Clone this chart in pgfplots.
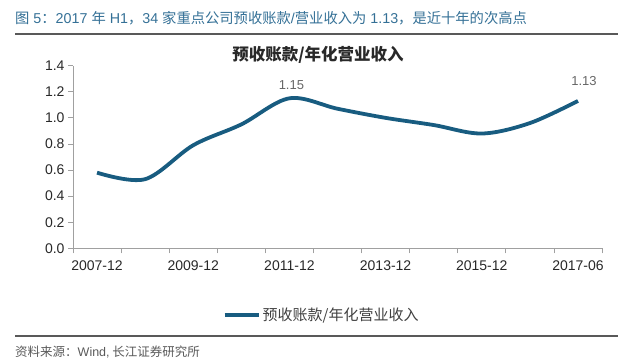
\documentclass[border=0pt]{standalone}
\usepackage{pgfplots}
\pgfplotsset{compat=1.18}
\usepackage{fontspec}
\setmainfont{Liberation Sans}
\newfontfamily\cjk{Noto Sans CJK SC}
\definecolor{capblue}{RGB}{52,112,150}
\definecolor{linec}{RGB}{24,92,128}
\definecolor{axgray}{RGB}{160,160,160}
\definecolor{txt}{RGB}{40,40,40}
\begin{document}
\begin{tikzpicture}[x=1pt,y=1pt]
\path[use as bounding box] (0pt,0pt) rectangle (640pt,363pt);
% caption
\node[anchor=west, text=capblue, font=\fontsize{14.3}{16}\selectfont, inner sep=0pt] at (15pt,345pt)
 {{\cjk 图} 5{\cjk ：}2017 {\cjk 年} H1{\cjk ，}34 {\cjk 家重点公司预收账款}/{\cjk 营业收入为} 1.13{\cjk ，是近十年的次高点}};
\draw[color=black!65, line width=1.3pt] (15pt,329pt) -- (618pt,329pt);
% title
\node[font=\fontsize{16.5}{18}\selectfont\cjk\bfseries, text=txt, inner sep=0pt] at (318pt,308pt) {预收账款/年化营业收入};
\begin{axis}[
  at={(73pt,114.7pt)}, anchor=south west,
  scale only axis, width=529pt, height=182.6pt,
  xmin=-0.5, xmax=10.5, ymin=0, ymax=1.4,
  axis lines=left,
  axis line style={-, draw=axgray, line width=0.8pt},
  tick style={draw=axgray, line width=0.8pt},
  tick align=outside,
  major tick length=5pt,
  ytick={0,0.2,...,1.4},
  yticklabel style={/pgf/number format/.cd, fixed, fixed zerofill, precision=1, assume math mode=true},
  xtick={-0.5,0.5,...,10.5},
  xticklabels={},
  extra x ticks={0,2,4,6,8,10},
  extra x tick labels={2007-12,2009-12,2011-12,2013-12,2015-12,2017-06},
  extra x tick style={major tick length=0pt},
  ticklabel style={font=\fontsize{14}{16}\selectfont, text=txt},
  xticklabel style={yshift=-9pt},
  legend style={at={(axis description cs:0.47,-0.365)}, anchor=center, draw=none, fill=none,
     font=\fontsize{15}{17}\selectfont\cjk, text=black!75, inner sep=0pt},
  legend image code/.code={\draw[#1, line width=4pt] (0pt,0pt) -- (34pt,0pt);},
  clip=false,
]
\addplot[color=linec, line width=3.8pt, smooth, tension=0.55] coordinates {
 (0,0.58) (1,0.53) (2,0.79) (3,0.95) (4,1.15) (5,1.07) (6,1.00) (7,0.945) (8,0.88) (9,0.96) (10,1.13)};
\addlegendentry{预收账款/年化营业收入}
\node[font=\fontsize{13}{15}\selectfont, text=black!60, anchor=center] at (axis cs:4,1.15) [yshift=13pt, xshift=2pt] {1.15};
\node[font=\fontsize{13}{15}\selectfont, text=black!60, anchor=center] at (axis cs:10,1.13) [yshift=20pt, xshift=6pt] {1.13};
\end{axis}
\draw[color=black!65, line width=1.2pt] (15pt,27pt) -- (618pt,27pt);
\node[anchor=west, text=black!65, font=\fontsize{12.5}{14}\selectfont\cjk, inner sep=0pt] at (15pt,11pt) {资料来源：{\fontspec{Liberation Sans}Wind,} 长江证券研究所};
\end{tikzpicture}
\end{document}
